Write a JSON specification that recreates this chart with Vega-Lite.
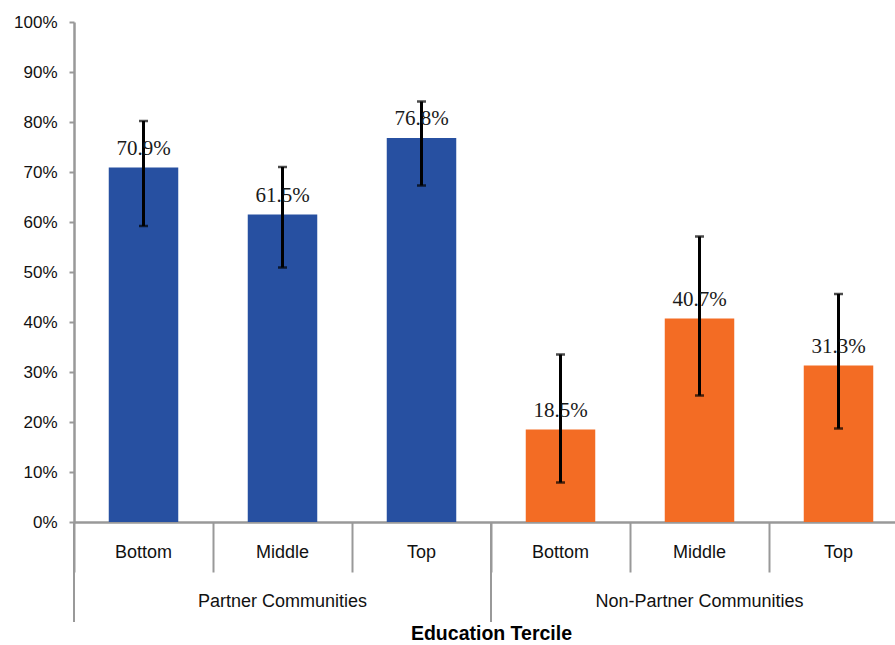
{
  "$schema": "https://vega.github.io/schema/vega-lite/v6.json",
  "width": 834,
  "height": 500,
  "padding": {"left": 13, "top": 13, "right": 0, "bottom": 0},
  "background": "white",
  "config": {"view": {"stroke": null}, "font": "Liberation Sans"},
  "data": {
    "values": [
      {"cat": "Partner Communities|Bottom", "group": "Partner Communities", "value": 0.709, "lo": 0.592, "hi": 0.802},
      {"cat": "Partner Communities|Middle", "group": "Partner Communities", "value": 0.615, "lo": 0.509, "hi": 0.710},
      {"cat": "Partner Communities|Top", "group": "Partner Communities", "value": 0.768, "lo": 0.673, "hi": 0.841},
      {"cat": "Non-Partner Communities|Bottom", "group": "Non-Partner Communities", "value": 0.185, "lo": 0.079, "hi": 0.335},
      {"cat": "Non-Partner Communities|Middle", "group": "Non-Partner Communities", "value": 0.407, "lo": 0.253, "hi": 0.571},
      {"cat": "Non-Partner Communities|Top", "group": "Non-Partner Communities", "value": 0.313, "lo": 0.187, "hi": 0.456}
    ]
  },
  "encoding": {
    "x": {
      "field": "cat",
      "type": "nominal",
      "sort": null,
      "scale": {"paddingInner": 0, "paddingOuter": 0},
      "axis": {
        "title": "Education Tercile",
        "titleFontSize": 19.5,
        "titleFontWeight": "bold",
        "titleColor": "#000000",
        "titlePadding": 51,
        "labelExpr": "split(datum.label, '|')[1]",
        "labelAngle": 0,
        "labelFontSize": 18,
        "labelColor": "#111111",
        "labelPadding": -29,
        "bandPosition": 0,
        "tickSize": 50,
        "tickWidth": 2,
        "tickColor": "#999999",
        "domainColor": "#999999",
        "domainWidth": 2.5,
        "grid": false
      }
    }
  },
  "layer": [
    {
      "mark": {"type": "bar", "width": {"band": 0.5}},
      "encoding": {
        "y": {
          "field": "value",
          "type": "quantitative",
          "scale": {"domain": [0, 1]},
          "axis": {
            "title": null,
            "values": [0, 0.1, 0.2, 0.3, 0.4, 0.5, 0.6, 0.7, 0.8, 0.9, 1],
            "format": ".0%",
            "labelFontSize": 17,
            "labelColor": "#111111",
            "labelPadding": 12,
            "tickSize": 5,
            "tickWidth": 2,
            "tickColor": "#999999",
            "domainColor": "#999999",
            "domainWidth": 2.5,
            "grid": false
          }
        },
        "color": {
          "field": "group",
          "type": "nominal",
          "scale": {"domain": ["Partner Communities", "Non-Partner Communities"], "range": ["#2750A1", "#F36C24"]},
          "legend": null
        }
      }
    },
    {
      "mark": {"type": "rule", "color": "#000000", "strokeWidth": 3},
      "encoding": {
        "y": {"field": "lo", "type": "quantitative"},
        "y2": {"field": "hi"}
      }
    },
    {
      "mark": {"type": "tick", "color": "#000000", "size": 9, "thickness": 2.5, "orient": "horizontal"},
      "encoding": {"y": {"field": "lo", "type": "quantitative"}}
    },
    {
      "mark": {"type": "tick", "color": "#000000", "size": 9, "thickness": 2.5, "orient": "horizontal"},
      "encoding": {"y": {"field": "hi", "type": "quantitative"}}
    },
    {
      "mark": {"type": "text", "font": "Liberation Serif", "fontSize": 21, "dy": -13, "baseline": "alphabetic", "color": "#1a1a1a"},
      "encoding": {
        "y": {"field": "value", "type": "quantitative"},
        "text": {"field": "value", "type": "quantitative", "format": ".1%"}
      }
    },
    {
      "transform": [{"filter": "indexof(datum.cat, 'Bottom') >= 0"}],
      "mark": {"type": "rule", "color": "#999999", "strokeWidth": 2, "clip": false},
      "encoding": {
        "x": {"field": "cat", "type": "nominal", "sort": null, "bandPosition": 0},
        "y": {"datum": 0, "type": "quantitative"},
        "y2": {"datum": -0.2}
      }
    },
    {
      "transform": [{"filter": "indexof(datum.cat, 'Top') >= 0 && datum.group == 'Non-Partner Communities'"}],
      "mark": {"type": "rule", "color": "#999999", "strokeWidth": 2, "clip": false},
      "encoding": {
        "x": {"field": "cat", "type": "nominal", "sort": null, "bandPosition": 1},
        "y": {"datum": 0, "type": "quantitative"},
        "y2": {"datum": -0.2}
      }
    },
    {
      "transform": [{"filter": "indexof(datum.cat, 'Middle') >= 0"}],
      "mark": {"type": "text", "fontSize": 18, "color": "#111111", "baseline": "middle", "clip": false},
      "encoding": {
        "x": {"field": "cat", "type": "nominal", "sort": null},
        "y": {"datum": -0.16, "type": "quantitative"},
        "text": {"field": "group"}
      }
    }
  ]
}
